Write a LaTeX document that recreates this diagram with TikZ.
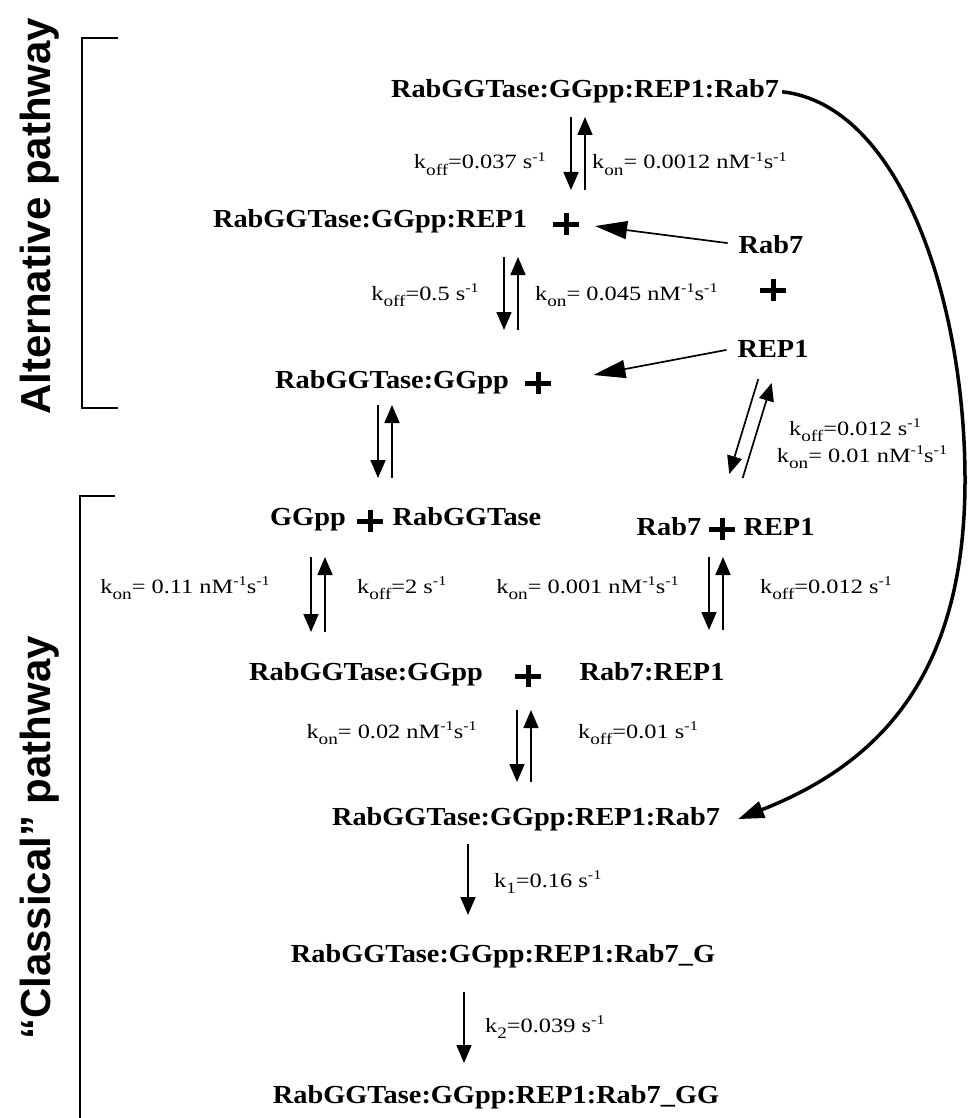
\documentclass[tikz,border=0pt]{standalone}
\usepackage{fontspec}
\setmainfont{Liberation Serif}[FakeStretch=1.09]
\newfontfamily\ratefont{Liberation Serif}[FakeStretch=1.2]
\newfontfamily\sidefont{Liberation Sans}
\usetikzlibrary{arrows.meta}
\newcommand{\ksub}[1]{\raisebox{-6pt}{\fontsize{16}{17}\selectfont #1}}
\newcommand{\ksup}[1]{\raisebox{7.5pt}{\fontsize{13.5}{14}\selectfont #1}}

\begin{document}
\begin{tikzpicture}[x=1pt, y=-1pt,
  species/.style={font=\fontsize{26}{28}\selectfont\bfseries, anchor=base, inner sep=3pt},
  rate/.style={font=\ratefont\fontsize{20.3}{22}\selectfont, inner sep=0pt},
  side/.style={font=\sidefont\fontsize{42}{44}\selectfont\bfseries, rotate=90, anchor=base},
  addsign/.style={minimum width=26pt, minimum height=22pt, inner sep=0pt,
    append after command={(\tikzlastnode.west) edge[line width=5pt] (\tikzlastnode.east)
      (\tikzlastnode.north) edge[line width=5pt] (\tikzlastnode.south)}},
  arr/.style={-{Triangle[length=18pt,width=15pt]}, line width=1.7pt},
  bigarr/.style={-{Triangle[length=32pt,width=18pt]}, line width=1.7pt},
  curvearr/.style={-{Triangle[length=26pt,width=17pt]}, line width=3.5pt},
  bracket/.style={line width=2pt}
]
\useasboundingbox (0,0) rectangle (969,1118);

% side labels and brackets
\node[side] (altlab) at (50,216) {Alternative pathway};
\node[side] (clalab) at (50,838) {“Classical” pathway};
\draw[bracket] (118,38) -- (82,38) -- (82,408) -- (118,408);
\draw[bracket] (115,496) -- (80,496) -- (80,1120);

% alternative pathway
\node[species] (quatA) at (585,98) {RabGGTase:GGpp:REP1:Rab7};
\node[species] (ternA) at (370,227) {RabGGTase:GGpp:REP1};
\node[addsign] (plA) at (566,224) {};
\node[species] (rab) at (771,253) {Rab7};
\node[addsign] (plB) at (773,290) {};
\node[species] (rep) at (773,357) {REP1};
\node[species] (binA) at (392,388) {RabGGTase:GGpp};
\node[addsign] (plC) at (538,383) {};

% classical pathway
\node[species] (ggpp) at (308,525) {GGpp};
\node[addsign] (plD) at (370,521) {};
\node[species] (tase) at (467,525) {RabGGTase};
\node[species] (rabF) at (669,535) {Rab7};
\node[addsign] (plE) at (722,529) {};
\node[species] (repF) at (779,535) {REP1};
\node[species] (binC) at (366,680) {RabGGTase:GGpp};
\node[addsign] (plF) at (528,676) {};
\node[species] (duo) at (652,680) {Rab7:REP1};
\node[species] (quatC) at (526,825) {RabGGTase:GGpp:REP1:Rab7};
\node[species] (monoG) at (503,962) {RabGGTase:GGpp:REP1:Rab7\_G};
\node[species] (diGG) at (496,1103) {RabGGTase:GGpp:REP1:Rab7\_GG};

% ends of the equilibrium arrows
\coordinate (a1) at (578,117); \coordinate (a2) at (578,190);
\coordinate (b1) at (511,257); \coordinate (b2) at (511,330);
\coordinate (c1) at (385,405); \coordinate (c2) at (385,478);
\coordinate (d1) at (765,381); \coordinate (d2) at (736,476);
\coordinate (e1) at (318,557); \coordinate (e2) at (318,632);
\coordinate (f1) at (716,557); \coordinate (f2) at (716,630);
\coordinate (g1) at (524,710); \coordinate (g2) at (524,782);
\coordinate (h1) at (468,844); \coordinate (h2) at (468,915);
\coordinate (i1) at (464,992); \coordinate (i2) at (464,1063);
\coordinate (bend) at (965,480);

\draw[arr] ([xshift=-7pt]a1) -- ([xshift=-7pt]a2);
\draw[arr] ([xshift=7pt]a2) -- ([xshift=7pt]a1);
\draw[arr] ([xshift=-7pt]b1) -- ([xshift=-7pt]b2);
\draw[arr] ([xshift=7pt]b2) -- ([xshift=7pt]b1);
\draw[arr] ([xshift=-7pt]c1) -- ([xshift=-7pt]c2);
\draw[arr] ([xshift=7pt]c2) -- ([xshift=7pt]c1);
\draw[arr] ([shift={(-6.7,-2)}]d1) -- ([shift={(-6.7,-2)}]d2);
\draw[arr] ([shift={(6.7,2)}]d2) -- ([shift={(6.7,2)}]d1);
\draw[arr] ([xshift=-7pt]e1) -- ([xshift=-7pt]e2);
\draw[arr] ([xshift=7pt]e2) -- ([xshift=7pt]e1);
\draw[arr] ([xshift=-7pt]f1) -- ([xshift=-7pt]f2);
\draw[arr] ([xshift=7pt]f2) -- ([xshift=7pt]f1);
\draw[arr] ([xshift=-7pt]g1) -- ([xshift=-7pt]g2);
\draw[arr] ([xshift=7pt]g2) -- ([xshift=7pt]g1);
\draw[arr] (h1) -- (h2);
\draw[arr] (i1) -- (i2);

\draw[bigarr, shorten <=8pt, shorten >=16pt] (rab.west) -- (plA.east);
\draw[bigarr, shorten <=8pt, shorten >=43pt] (rep.west) -- (plC.east);
\draw[curvearr, shorten >=16pt] (quatA.east) .. controls (900,105) and (965,300) .. (bend)
  .. controls (965,680) and (875,765) .. (quatC.base east);

% rate constants
\node[rate, anchor=base east] (rA1) at (546,169) {k\ksub{off}=0.037 s\ksup{-1}};
\node[rate, anchor=base west] (rA2) at (592,169) {k\ksub{on}= 0.0012 nM\ksup{-1}s\ksup{-1}};
\node[rate, anchor=base east] (rB1) at (479,300) {k\ksub{off}=0.5 s\ksup{-1}};
\node[rate, anchor=base west] (rB2) at (535,300) {k\ksub{on}= 0.045 nM\ksup{-1}s\ksup{-1}};
\node[rate, anchor=base] (rD1) at (855,435) {k\ksub{off}=0.012 s\ksup{-1}};
\node[rate, anchor=base] (rD2) at (862,462) {k\ksub{on}= 0.01 nM\ksup{-1}s\ksup{-1}};
\node[rate, anchor=base east] (rE1) at (270,593) {k\ksub{on}= 0.11 nM\ksup{-1}s\ksup{-1}};
\node[rate, anchor=base west] (rE2) at (357,593) {k\ksub{off}=2 s\ksup{-1}};
\node[rate, anchor=base east] (rF1) at (679,593) {k\ksub{on}= 0.001 nM\ksup{-1}s\ksup{-1}};
\node[rate, anchor=base west] (rF2) at (760,593) {k\ksub{off}=0.012 s\ksup{-1}};
\node[rate, anchor=base east] (rG1) at (477,738) {k\ksub{on}= 0.02 nM\ksup{-1}s\ksup{-1}};
\node[rate, anchor=base west] (rG2) at (578,738) {k\ksub{off}=0.01 s\ksup{-1}};
\node[rate, anchor=base west] (rH) at (494,887) {k\ksub{1}=0.16 s\ksup{-1}};
\node[rate, anchor=base west] (rI) at (485,1032) {k\ksub{2}=0.039 s\ksup{-1}};
\end{tikzpicture}
\end{document}
